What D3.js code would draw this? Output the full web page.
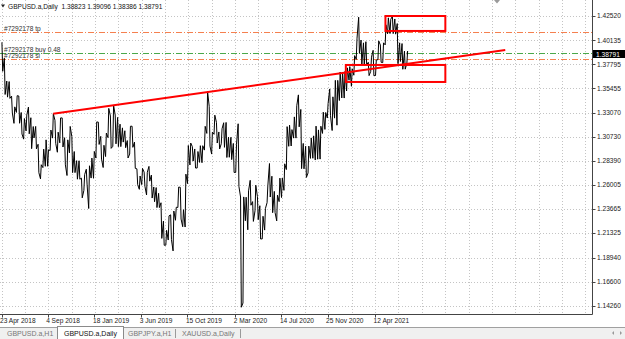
<!DOCTYPE html>
<html>
<head>
<meta charset="utf-8">
<script src="https://cdn.jsdelivr.net/npm/d3@7"></script>
<style>
  html, body { margin: 0; padding: 0; background: #fff; }
  svg { display: block; font-family: "Liberation Sans", Arial, sans-serif; }
</style>
</head>
<body>
<div id="chart"></div>
<script>
// GBPUSD.a daily, drawn as weekly high/low swings
const weekStart = "2018-04-23";
const weekHigh = [
  1.3995, 1.3840, 1.3617, 1.3612, 1.3470, 1.3365, 1.3474, 1.3471, 1.3310, 1.3251,
  1.3285, 1.3363, 1.3259, 1.3173, 1.3174, 1.3000, 1.2800, 1.2952, 1.3043, 1.2946,
  1.3139, 1.3298, 1.3234, 1.3118, 1.3257, 1.3257, 1.3064, 1.3043, 1.3174, 1.3074,
  1.2929, 1.2840, 1.2839, 1.2669, 1.2704, 1.2756, 1.2790, 1.2865, 1.2930, 1.3218,
  1.3216, 1.3077, 1.2990, 1.3109, 1.3350, 1.3276, 1.3380, 1.3285, 1.3262, 1.3196,
  1.3160, 1.3132, 1.3036, 1.3176, 1.3176, 1.3021, 1.2760, 1.2690, 1.2764, 1.2728,
  1.2727, 1.2784, 1.2699, 1.2583, 1.2577, 1.2521, 1.2429, 1.2250, 1.2160, 1.2301,
  1.2311, 1.2348, 1.2385, 1.2582, 1.2580, 1.2361, 1.2708, 1.2988, 1.3012, 1.2977,
  1.2954, 1.2929, 1.2986, 1.2986, 1.3175, 1.3514, 1.3370, 1.3118, 1.3284, 1.3214,
  1.3120, 1.3151, 1.3210, 1.3213, 1.3069, 1.3068, 1.3008, 1.3000, 1.3200, 1.2485,
  1.2486, 1.2483, 1.2545, 1.2648, 1.2440, 1.2600, 1.2489, 1.2400, 1.2297, 1.2373,
  1.2594, 1.2812, 1.2688, 1.2540, 1.2504, 1.2669, 1.2670, 1.2809, 1.3172, 1.3186,
  1.3143, 1.3267, 1.3376, 1.3482, 1.3340, 1.3008, 1.2980, 1.2982, 1.3062, 1.3082,
  1.3177, 1.3140, 1.3176, 1.3313, 1.3310, 1.3398, 1.3540, 1.3463, 1.3624, 1.3624,
  1.3705, 1.3703, 1.3710, 1.3746, 1.3758, 1.3737, 1.3865, 1.4035, 1.4240, 1.4017,
  1.3990, 1.4001, 1.3800, 1.3850, 1.3917, 1.3821, 1.4009, 1.3969, 1.3990, 1.4166,
  1.4234, 1.4220, 1.4250, 1.4223, 1.4178, 1.3990, 1.3983, 1.3909, 1.3909
];
const weekLow = [
  1.3712, 1.3486, 1.3460, 1.3448, 1.3305, 1.3204, 1.3311, 1.3205, 1.3100, 1.3050,
  1.3130, 1.3102, 1.2957, 1.3062, 1.2955, 1.2723, 1.2662, 1.2772, 1.2785, 1.2785,
  1.2939, 1.3060, 1.3009, 1.2922, 1.3014, 1.2973, 1.2799, 1.2695, 1.2916, 1.2723,
  1.2723, 1.2659, 1.2659, 1.2477, 1.2550, 1.2611, 1.2373, 1.2670, 1.2668, 1.2865,
  1.2998, 1.2855, 1.2773, 1.2880, 1.3065, 1.2960, 1.2980, 1.3004, 1.2977, 1.2977,
  1.3021, 1.2966, 1.2866, 1.2904, 1.2970, 1.2765, 1.2605, 1.2560, 1.2606, 1.2590,
  1.2505, 1.2640, 1.2475, 1.2439, 1.2382, 1.2382, 1.2081, 1.2014, 1.2015, 1.2065,
  1.2071, 1.1959, 1.2258, 1.2383, 1.2270, 1.2195, 1.2192, 1.2616, 1.2798, 1.2836,
  1.2768, 1.2768, 1.2823, 1.2820, 1.2943, 1.3106, 1.2982, 1.2904, 1.3097, 1.3012,
  1.2954, 1.3005, 1.2970, 1.2871, 1.2873, 1.2850, 1.2725, 1.2725, 1.2589, 1.1409,
  1.1450, 1.2253, 1.2165, 1.2405, 1.2247, 1.2350, 1.2264, 1.2075, 1.2076, 1.2162,
  1.2430, 1.2485, 1.2332, 1.2333, 1.2252, 1.2440, 1.2480, 1.2550, 1.2753, 1.2980,
  1.2983, 1.3060, 1.3060, 1.3170, 1.2762, 1.2760, 1.2676, 1.2720, 1.2862, 1.2863,
  1.2846, 1.2854, 1.2855, 1.3106, 1.3145, 1.3256, 1.3278, 1.3134, 1.3255, 1.3186,
  1.3427, 1.3452, 1.3451, 1.3520, 1.3625, 1.3566, 1.3674, 1.3829, 1.3887, 1.3778,
  1.3777, 1.3776, 1.3670, 1.3711, 1.3669, 1.3671, 1.3826, 1.3800, 1.3797, 1.3970,
  1.4078, 1.4081, 1.4080, 1.4075, 1.3787, 1.3808, 1.3732, 1.3733, 1.3790
];
const lastCloseDate = "2021-07-13";
const lastClose = 1.38791;

const headerText = "GBPUSD.a,Daily  1.38823 1.39096 1.38386 1.38791";
const priceTicks = [1.42520, 1.40135, 1.37795, 1.35455, 1.33070, 1.30730, 1.28390,
                    1.26005, 1.23665, 1.21325, 1.18940, 1.16600, 1.14260];
const dateTicks = ["2018-04-23", "2018-09-04", "2019-01-18", "2019-06-03", "2019-10-15",
                   "2020-03-02", "2020-07-14", "2020-11-25", "2021-04-12"];
const dateTickLabels = ["23 Apr 2018", "4 Sep 2018", "18 Jan 2019", "3 Jun 2019", "15 Oct 2019",
                        "2 Mar 2020", "14 Jul 2020", "25 Nov 2020", "12 Apr 2021"];

const orderNames = ["#7292178 tp", "#7292178 buy 0.48", "#7292178 sl"];
const orderPrices = [1.4093, 1.3888, 1.3830];
const orderKinds = ["stop", "open", "stop"];

const trendDates = ["2018-09-20", "2022-04-25"];
const trendPrices = [1.3298, 1.3920];
const boxDates = [["2021-05-12", "2021-11-02"], ["2021-01-17", "2021-11-02"]];
const boxPrices = [[1.4252, 1.4106], [1.3774, 1.3608]];

const tabNames = ["GBPUSD.a,H1", "GBPUSD.a,Daily", "GBPJPY.a,H1", "XAUUSD.a,Daily"];
const activeTab = 1;

const W = 625, H = 339;
const plotRight = 592.5, plotBottom = 314.5;
const parse = d3.utcParse("%Y-%m-%d");

const x = d3.scaleUtc()
  .domain([parse(dateTicks[0]), parse(dateTicks[dateTicks.length - 1])])
  .range([1.5, 375.1]);
const y = d3.scaleLinear()
  .domain([1.14260, 1.42520])
  .range([305.5, 16]);

const svg = d3.select("#chart").append("svg")
  .attr("width", W).attr("height", H);

svg.append("rect").attr("width", W).attr("height", H).attr("fill", "#fff");

const plot = svg.append("g");
plot.append("clipPath").attr("id", "clip")
  .append("rect").attr("x", 0).attr("y", 0).attr("width", plotRight).attr("height", plotBottom);

// grid
const gridStep = (x.range()[1] - x.range()[0]) / 16;
const gridX = d3.range(x.range()[0], plotRight, gridStep);
plot.append("g").selectAll("line").data(gridX).join("line")
  .attr("x1", d => Math.round(d) + 0.5).attr("x2", d => Math.round(d) + 0.5)
  .attr("y1", 0).attr("y2", plotBottom)
  .attr("stroke", "#c4c4c4").attr("stroke-width", 1).attr("stroke-dasharray", "1,2");
plot.append("g").selectAll("line").data(priceTicks).join("line")
  .attr("x1", 0).attr("x2", plotRight)
  .attr("y1", d => Math.round(y(d)) + 0.5).attr("y2", d => Math.round(y(d)) + 0.5)
  .attr("stroke", "#c4c4c4").attr("stroke-width", 1).attr("stroke-dasharray", "1,2");

// order levels
const levelColor = k => k === "open" ? "#4aa84a" : "#f5804f";
plot.append("g").selectAll("line").data(orderPrices).join("line")
  .attr("x1", 0).attr("x2", plotRight)
  .attr("y1", d => Math.round(y(d)) + 0.5).attr("y2", d => Math.round(y(d)) + 0.5)
  .attr("stroke", (d, i) => levelColor(orderKinds[i]))
  .attr("stroke-width", 1)
  .attr("stroke-dasharray", "6,2,1,2");
plot.append("g").selectAll("text").data(orderNames).join("text")
  .attr("x", 4).attr("y", (d, i) => Math.round(y(orderPrices[i])) - 1.5)
  .attr("font-size", 6.6).attr("fill", "#333")
  .text(d => d);

// price series: weekly high/low swings
const t0 = parse(weekStart);
const weeks = d3.utcMonday.range(t0, d3.utcDay.offset(t0, weekHigh.length * 7));
const mid = weekHigh.map((h, i) => (h + weekLow[i]) / 2);
const pts = [];
weeks.forEach((w, i) => {
  const trend = mid[Math.min(i + 1, mid.length - 1)] - mid[Math.max(i - 1, 0)];
  const a = d3.utcHour.offset(w, 30), b = d3.utcHour.offset(w, 84);
  if (trend > 0) { pts.push([a, weekLow[i]], [b, weekHigh[i]]); }
  else { pts.push([a, weekHigh[i]], [b, weekLow[i]]); }
});
pts.push([d3.utcHour.offset(parse(lastCloseDate), 12), lastClose]);

plot.append("path")
  .datum(pts)
  .attr("clip-path", "url(#clip)")
  .attr("fill", "none")
  .attr("stroke", "#000")
  .attr("stroke-width", 1)
  .attr("stroke-linejoin", "miter")
  .attr("d", d3.line().x(d => x(d[0])).y(d => y(d[1])));

// trend line and boxes
plot.append("line")
  .attr("x1", x(parse(trendDates[0]))).attr("y1", y(trendPrices[0]))
  .attr("x2", x(parse(trendDates[1]))).attr("y2", y(trendPrices[1]))
  .attr("stroke", "#ff0000").attr("stroke-width", 2);
plot.append("g").selectAll("rect").data(boxDates).join("rect")
  .attr("x", d => x(parse(d[0])))
  .attr("width", d => x(parse(d[1])) - x(parse(d[0])))
  .attr("y", (d, i) => y(boxPrices[i][0]))
  .attr("height", (d, i) => y(boxPrices[i][1]) - y(boxPrices[i][0]))
  .attr("fill", "none").attr("stroke", "#ff0000").attr("stroke-width", 2);

// frame
svg.append("line").attr("x1", plotRight).attr("x2", plotRight).attr("y1", 0).attr("y2", plotBottom)
  .attr("stroke", "#444");
svg.append("line").attr("x1", 0).attr("x2", plotRight).attr("y1", plotBottom).attr("y2", plotBottom)
  .attr("stroke", "#444");

// right price axis
const yAxis = svg.append("g").attr("font-size", 6.6).attr("fill", "#222");
yAxis.selectAll("line").data(priceTicks).join("line")
  .attr("x1", plotRight).attr("x2", plotRight + 3)
  .attr("y1", d => Math.round(y(d)) + 0.5).attr("y2", d => Math.round(y(d)) + 0.5)
  .attr("stroke", "#444");
yAxis.selectAll("text").data(priceTicks).join("text")
  .attr("x", 597).attr("y", d => y(d) + 2.3)
  .text(d => d.toFixed(5));

// current price tag
svg.append("rect").attr("x", 593).attr("y", Math.round(y(lastClose)) - 4)
  .attr("width", 32).attr("height", 8).attr("fill", "#000");
svg.append("text").attr("x", 596).attr("y", y(lastClose) + 2.3)
  .attr("font-size", 6.6).attr("fill", "#fff").text(lastClose.toFixed(5));

// time axis
const xAxis = svg.append("g").attr("font-size", 6.6).attr("fill", "#222");
xAxis.selectAll("line").data(dateTicks).join("line")
  .attr("x1", d => Math.round(x(parse(d))) + 0.5).attr("x2", d => Math.round(x(parse(d))) + 0.5)
  .attr("y1", plotBottom).attr("y2", plotBottom + 3)
  .attr("stroke", "#444");
xAxis.selectAll("text").data(dateTickLabels).join("text")
  .attr("x", (d, i) => x(parse(dateTicks[i])) - 1.5).attr("y", 323)
  .text(d => d);

// header
svg.append("path").attr("d", "M1,4.5 L5,4.5 L3,7.5 Z").attr("fill", "#222");
svg.append("text").attr("x", 8).attr("y", 8.5).attr("font-size", 6.6).attr("fill", "#111")
  .attr("xml:space", "preserve").style("white-space", "pre")
  .text(headerText);

// chart shift marker
svg.append("path").attr("d", "M494,0 L500,0 L497,3.5 Z").attr("fill", "#9a9a9a");

// tab bar
const tabY = 327;
svg.append("rect").attr("x", 0).attr("y", tabY).attr("width", W).attr("height", H - tabY).attr("fill", "#f0f0f0");
svg.append("line").attr("x1", 0).attr("x2", W).attr("y1", tabY + 0.5).attr("y2", tabY + 0.5).attr("stroke", "#a0a0a0");
const tabX = [3, 57, 124, 178];
const tabW = [52, 66, 52, 62];
svg.append("rect").attr("x", tabX[activeTab] + 0.5).attr("y", tabY - 0.5)
  .attr("width", tabW[activeTab]).attr("height", H - tabY + 1)
  .attr("fill", "#fff").attr("stroke", "#8a8a8a");
svg.append("g").selectAll("text").data(tabNames).join("text")
  .attr("x", (d, i) => tabX[i] + 4 + (i === activeTab ? 3 : 0)).attr("y", 336)
  .attr("font-size", 7).attr("fill", (d, i) => i === activeTab ? "#111" : "#777")
  .text(d => d);
svg.append("g").selectAll("line").data([175.5, 240.5]).join("line")
  .attr("x1", d => d).attr("x2", d => d).attr("y1", 329).attr("y2", 338)
  .attr("stroke", "#9a9a9a");
svg.append("path").attr("d", "M614,331 L614,335 L612,333 Z").attr("fill", "#999");
svg.append("path").attr("d", "M620,331 L620,335 L622,333 Z").attr("fill", "#999");
</script>
</body>
</html>
